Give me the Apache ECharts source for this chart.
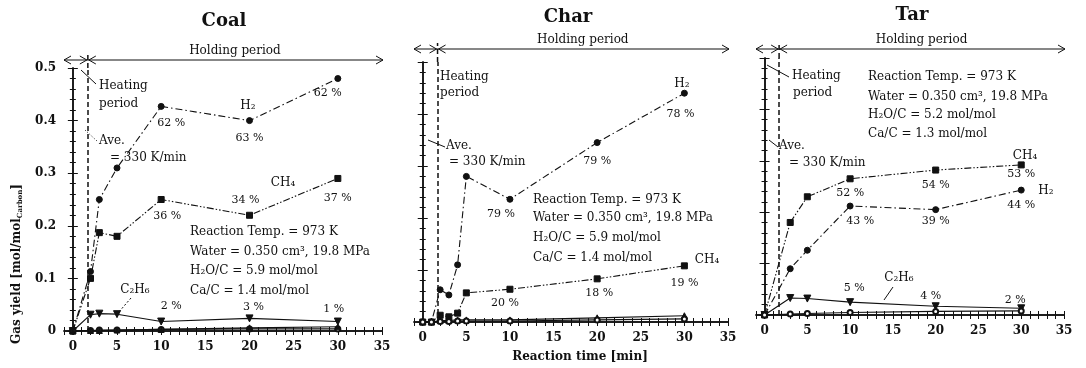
<!DOCTYPE html>
<html>
<head>
<meta charset="utf-8">
<script src="https://cdn.jsdelivr.net/npm/echarts@6/dist/echarts.min.js"></script>
<style>
html, body { margin: 0; padding: 0; background: #fff; }
#fig_gas_yield { width: 1086px; height: 368px; }
</style>
</head>
<body>
<div id="fig_gas_yield"></div>
<script>
// ---- data (gas yield, mol/mol-carbon vs reaction time, min) ----
var panel_titles = ['Coal', 'Char', 'Tar'];
var heat_end = 1.7;
var x_ticks = [0, 5, 10, 15, 20, 25, 30, 35];
var y_ticks = [0, 0.1, 0.2, 0.3, 0.4, 0.5];

var coal_time = [0, 2, 3, 5, 10, 20, 30];
var coal_h2   = [0, 0.113, 0.25, 0.31, 0.427, 0.40, 0.48];
var coal_ch4  = [0, 0.10, 0.187, 0.18, 0.25, 0.22, 0.29];
var coal_c2h6 = [0, 0.031, 0.033, 0.032, 0.018, 0.024, 0.018];
var coal_co   = [0, 0.001, 0.002, 0.002, 0.003, 0.004, 0.004];
var coal_co2  = [0, 0.001, 0.001, 0.002, 0.003, 0.006, 0.008];
var coal_h2_pct   = ['', '', '', '', '62 %', '63 %', '62 %'];
var coal_ch4_pct  = ['', '', '', '', '36 %', '34 %', '37 %'];
var coal_c2h6_pct = ['', '', '', '', '2 %', '3 %', '1 %'];

var char_time = [0, 1, 2, 3, 4, 5, 10, 20, 30];
var char_h2   = [0, 0, 0.062, 0.052, 0.11, 0.28, 0.236, 0.345, 0.44];
var char_ch4  = [0, 0, 0.013, 0.010, 0.017, 0.056, 0.063, 0.083, 0.108];
var char_c2h6 = [0, 0, 0.003, 0.003, 0.004, 0.004, 0.004, 0.008, 0.012];
var char_co   = [0, 0, 0.001, 0.001, 0.002, 0.002, 0.002, 0.004, 0.006];
var char_h2_pct  = ['', '', '', '', '', '', '79 %', '79 %', '78 %'];
var char_ch4_pct = ['', '', '', '', '', '', '20 %', '18 %', '19 %'];

var tar_time = [0, 3, 5, 10, 20, 30];
var tar_ch4  = [0, 0.18, 0.23, 0.265, 0.282, 0.292];
var tar_h2   = [0, 0.09, 0.126, 0.212, 0.205, 0.243];
var tar_c2h6 = [0, 0.033, 0.032, 0.025, 0.017, 0.013];
var tar_co   = [0, 0.002, 0.003, 0.005, 0.007, 0.008];
var tar_ch4_pct  = ['', '', '', '52 %', '54 %', '53 %'];
var tar_h2_pct   = ['', '', '', '43 %', '39 %', '44 %'];
var tar_c2h6_pct = ['', '', '', '5 %', '4 %', '2 %'];

var conditions = [
    ['Reaction Temp. = 973 K', 'Water = 0.350 cm³, 19.8 MPa', 'H₂O/C = 5.9 mol/mol', 'Ca/C = 1.4 mol/mol'],
    ['Reaction Temp. = 973 K', 'Water = 0.350 cm³, 19.8 MPa', 'H₂O/C = 5.9 mol/mol', 'Ca/C = 1.4 mol/mol'],
    ['Reaction Temp. = 973 K', 'Water = 0.350 cm³, 19.8 MPa', 'H₂O/C = 5.2 mol/mol', 'Ca/C = 1.3 mol/mol']
];

var INK = '#111';
var SERIF = '"DejaVu Serif", "Liberation Serif", serif';

var styles = {
    h2:   { symbol: 'circle', size: 6, rotate: 0, dash: [7, 3, 1.5, 3] },
    ch4:  { symbol: 'rect', size: 6, rotate: 0, dash: [7, 2, 1.5, 2, 1.5, 2] },
    c2h6: { symbol: 'triangle', size: 7, rotate: 180, dash: 'solid' },
    co:   { symbol: 'emptyCircle', size: 5, rotate: 0, dash: 'solid' },
    co2:  { symbol: 'triangle', size: 6, rotate: 0, dash: 'solid' }
};

function points(time, vals, pcts, offsets) {
    var out = [];
    var k = 0;
    for (let i = 0; i < time.length; i++) {
        var item = { value: [time[i], vals[i]] };
        if (pcts && pcts[i]) {
            item.label = {
                show: true, position: 'inside', offset: offsets[k],
                formatter: pcts[i], color: INK, fontFamily: SERIF, fontSize: 11
            };
            k++;
        }
        out.push(item);
    }
    return out;
}

function make_series(p, name, time, vals, st, pcts, offsets) {
    return {
        name: name, type: 'line',
        xAxisIndex: 2 * p, yAxisIndex: 2 * p,
        data: points(time, vals, pcts, offsets),
        symbol: st.symbol, symbolSize: st.size, symbolRotate: st.rotate,
        showAllSymbol: true, clip: false,
        lineStyle: { color: INK, width: 1.1, type: st.dash },
        itemStyle: { color: INK, borderColor: INK, borderWidth: 1 },
        emphasis: { disabled: true },
        silent: true
    };
}

function heat_line() {
    return {
        silent: true, symbol: ['none', 'none'], label: { show: false },
        lineStyle: { color: INK, type: [5, 3], width: 1.5 },
        data: [{ xAxis: heat_end }]
    };
}

var fig_gas_yield = {
    plot_id: 'fig_gas_yield',
    plot_chart: null,
    first_series: [],

    grids: [
        { left: 64, top: 68, width: 318, height: 263 },
        { left: 414, top: 62, width: 314, height: 260 },
        { left: 756, top: 58, width: 308, height: 257 }
    ],

    init: function() {
        var xAxes = [], yAxes = [], series = [];
        for (let p = 0; p < 3; p++) {
            var xa = {
                type: 'value', gridIndex: p, min: -1, max: 35, interval: 1,
                axisLine: { lineStyle: { color: INK, width: 1.5 } },
                axisTick: { inside: true, length: 4, lineStyle: { color: INK } },
                splitLine: { show: false }
            };
            xAxes.push(Object.assign({}, xa, {
                position: 'bottom',
                axisLabel: {
                    interval: 0, margin: 10, color: INK, fontFamily: SERIF,
                    fontWeight: 'bold', fontSize: 12,
                    formatter: function(val) {
                        return x_ticks.indexOf(val) >= 0 ? String(val) : '';
                    }
                }
            }));
            xAxes.push(Object.assign({}, xa, { position: 'top', axisLabel: { show: false } }));

            var ya = {
                type: 'value', gridIndex: p, min: y_ticks[0], max: y_ticks[y_ticks.length - 1], interval: 0.1,
                axisLine: { lineStyle: { color: INK, width: 1.5 } },
                axisTick: { inside: true, length: 5, lineStyle: { color: INK } },
                minorTick: { show: true, splitNumber: 5, length: 3, lineStyle: { color: INK } },
                splitLine: { show: false }
            };
            yAxes.push(Object.assign({}, ya, {
                position: 'left',
                axisLabel: {
                    show: p === 0, margin: 8, color: INK, fontFamily: SERIF,
                    fontWeight: 'bold', fontSize: 12,
                    formatter: function(val) { return val === 0 ? '0' : val.toFixed(1); }
                }
            }));
            yAxes.push(Object.assign({}, ya, { position: 'right', axisLabel: { show: false } }));
        }

        // Coal
        this.first_series.push(series.length);
        var s = make_series(0, 'H2', coal_time, coal_h2, styles.h2, coal_h2_pct, [[10, 17], [0, 18], [-10, 15]]);
        s.markLine = heat_line();
        series.push(s);
        series.push(make_series(0, 'CH4', coal_time, coal_ch4, styles.ch4, coal_ch4_pct, [[6, 17], [-4, -15], [0, 20]]));
        series.push(make_series(0, 'C2H6', coal_time, coal_c2h6, styles.c2h6, coal_c2h6_pct, [[10, -15], [4, -11], [-4, -12]]));
        series.push(make_series(0, 'CO', coal_time, coal_co, styles.co));
        series.push(make_series(0, 'CO2', coal_time, coal_co2, styles.co2));

        // Char
        this.first_series.push(series.length);
        s = make_series(1, 'H2', char_time, char_h2, styles.h2, char_h2_pct, [[-9, 15], [0, 19], [-4, 21]]);
        s.markLine = heat_line();
        series.push(s);
        series.push(make_series(1, 'CH4', char_time, char_ch4, styles.ch4, char_ch4_pct, [[-5, 14], [2, 14], [0, 17]]));
        series.push(make_series(1, 'C2H6', char_time, char_c2h6, styles.co2));
        series.push(make_series(1, 'CO', char_time, char_co, styles.co));

        // Tar
        this.first_series.push(series.length);
        s = make_series(2, 'CH4', tar_time, tar_ch4, styles.ch4, tar_ch4_pct, [[0, 14], [0, 15], [0, 9]]);
        s.markLine = heat_line();
        series.push(s);
        series.push(make_series(2, 'H2', tar_time, tar_h2, styles.h2, tar_h2_pct, [[10, 15], [0, 12], [0, 15]]));
        series.push(make_series(2, 'C2H6', tar_time, tar_c2h6, styles.c2h6, tar_c2h6_pct, [[4, -14], [-5, -10], [-6, -8]]));
        series.push(make_series(2, 'CO', tar_time, tar_co, styles.co));

        this.option = {
            backgroundColor: '#fff',
            animation: false,
            grid: this.grids,
            xAxis: xAxes,
            yAxis: yAxes,
            series: series
        };

        this.plot_chart = echarts.init(document.getElementById(this.plot_id));
        this.plot_chart.setOption(this.option);
        this.annotate();
    },

    annotate: function() {
        var chart = this.plot_chart;
        var g = [];
        function txt(x, y, text, opt) {
            opt = opt || {};
            g.push({
                type: 'text', x: x, y: y, rotation: opt.rotation || 0, silent: true,
                style: {
                    text: text, fill: INK, fontFamily: SERIF,
                    fontSize: opt.size || 12, fontWeight: opt.weight || 'normal',
                    align: opt.align || 'left', verticalAlign: 'middle',
                    rich: opt.rich
                }
            });
        }
        function seg(x1, y1, x2, y2, dash, w) {
            g.push({
                type: 'line', silent: true,
                shape: { x1: x1, y1: y1, x2: x2, y2: y2 },
                style: { stroke: INK, lineWidth: w || 1, lineDash: dash || null }
            });
        }
        function head(x, y, dir) {
            g.push({
                type: 'polyline', silent: true,
                shape: { points: [[x - dir * 7, y - 4], [x, y], [x - dir * 7, y + 4]] },
                style: { stroke: INK, lineWidth: 1, fill: null }
            });
        }

        // titles
        var title_pos = [[224, 21], [568, 17], [912, 15]];
        for (let p = 0; p < 3; p++) {
            txt(title_pos[p][0], title_pos[p][1], panel_titles[p], { size: 18, weight: 'bold', align: 'center' });
        }

        // holding / heating period arrows
        var gap = [8, 13, 9];
        for (let p = 0; p < 3; p++) {
            var f = { seriesIndex: this.first_series[p] };
            var a = chart.convertToPixel(f, [-1, 0.5]);
            var h = chart.convertToPixel(f, [heat_end, 0.5]);
            var b = chart.convertToPixel(f, [35, 0.5]);
            var y = a[1] - gap[p];
            var right = b[0] + 1;
            seg(a[0], y, right, y, null, 1.2);
            head(a[0], y, -1);
            head(h[0] - 1, y, 1);
            head(h[0] + 1, y, -1);
            head(right, y, 1);
            seg(h[0], h[1], h[0], y - 6, [5, 3], 1.5);
            txt((h[0] + b[0]) / 2, y - 9, 'Holding period', { size: 12, align: 'center' });
        }

        // heating period / heating rate notes
        txt(99, 86, 'Heating'); txt(99, 104, 'period');
        seg(81, 70, 96, 84);
        txt(99, 141, 'Ave.'); txt(110, 158, '= 330 K/min');
        seg(85, 130, 97, 141, [1, 2]);

        txt(440, 77, 'Heating'); txt(440, 93, 'period');
        txt(446, 146, 'Ave.'); txt(449, 162, '= 330 K/min');
        seg(428, 140, 445, 147);

        txt(792, 76, 'Heating'); txt(793, 93, 'period');
        seg(767, 65, 789, 77);
        txt(779, 146, 'Ave.'); txt(789, 163, '= 330 K/min');
        seg(769, 140, 778, 147);

        // gas names
        txt(248, 106, 'H₂', { align: 'center' });
        txt(283, 183, 'CH₄', { align: 'center' });
        txt(135, 290, 'C₂H₆', { align: 'center' });
        seg(131, 298, 118, 313, [2, 2]);

        txt(682, 84, 'H₂', { align: 'center' });
        txt(707, 260, 'CH₄', { align: 'center' });

        txt(1025, 156, 'CH₄', { align: 'center' });
        txt(1046, 191, 'H₂', { align: 'center' });
        txt(899, 278, 'C₂H₆', { align: 'center' });
        seg(893, 287, 884, 300);

        // reaction conditions
        var cond_pos = [
            [190, [232, 252, 271, 291]],
            [533, [200, 218, 238, 258]],
            [868, [77, 97, 115, 134]]
        ];
        for (let p = 0; p < 3; p++) {
            for (let i = 0; i < conditions[p].length; i++) {
                txt(cond_pos[p][0], cond_pos[p][1][i], conditions[p][i]);
            }
        }

        // axis names
        txt(580, 357, 'Reaction time [min]', { size: 12, weight: 'bold', align: 'center' });
        txt(17, 264, 'Gas yield [mol/mol{sub|Carbon}]', {
            size: 12, weight: 'bold', align: 'center', rotation: Math.PI / 2,
            rich: { sub: { fontSize: 7, fontWeight: 'bold', fontFamily: SERIF, fill: INK, padding: [6, 0, 0, 0] } }
        });

        chart.setOption({ graphic: g });
    },

    resize: function() {
        this.plot_chart.resize();
    }
};

fig_gas_yield.init();
</script>
</body>
</html>
